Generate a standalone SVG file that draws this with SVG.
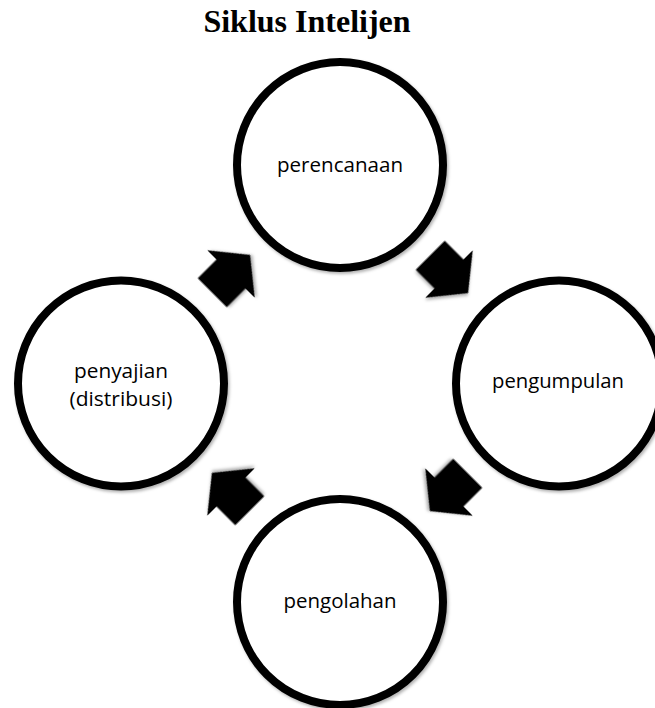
<svg xmlns="http://www.w3.org/2000/svg" width="655" height="708" viewBox="0 0 655 708">
<style>
.node circle{fill:#fff;stroke:#000;stroke-width:8;filter:url(#sh)}
.lbl{font-family:"Open Sans","Noto Sans",sans-serif;font-size:20.5px;fill:#000;text-anchor:middle}
.title{font-family:"Liberation Serif","Times New Roman",serif;font-size:32px;font-weight:bold;fill:#000;text-anchor:middle}
.arr{fill:#000;filter:url(#sh)}
</style>
<defs>
<filter id="sh" x="-20%" y="-20%" width="140%" height="140%">
<feDropShadow dx="1.5" dy="2" stdDeviation="1.5" flood-color="#000" flood-opacity="0.3"/>
</filter>
<path id="arrow" d="M-26.5,-20.5 L0,-20.5 L0,-33.5 L27,0 L0,33.5 L0,20.5 L-26.5,20.5 Z"/>
</defs>
<rect width="655" height="708" fill="#fff"/>
<text class="title" x="307" y="32">Siklus Intelijen</text>
<g id="connectors">
<use href="#arrow" class="arr" transform="translate(231,274) rotate(-45)"/>
<use href="#arrow" class="arr" transform="translate(449,274) rotate(45)"/>
<use href="#arrow" class="arr" transform="translate(449,492) rotate(135)"/>
<use href="#arrow" class="arr" transform="translate(231,492) rotate(-135)"/>
</g>
<g id="perencanaan" class="node">
<circle cx="340" cy="165" r="103"/>
<text class="lbl" x="340" y="172" textLength="126" lengthAdjust="spacingAndGlyphs">perencanaan</text>
</g>
<g id="pengumpulan" class="node">
<circle cx="559" cy="383.5" r="103"/>
<text class="lbl" x="558" y="388" textLength="132" lengthAdjust="spacingAndGlyphs">pengumpulan</text>
</g>
<g id="pengolahan" class="node">
<circle cx="340" cy="602" r="103"/>
<text class="lbl" x="340" y="608" textLength="113" lengthAdjust="spacingAndGlyphs">pengolahan</text>
</g>
<g id="penyajian" class="node">
<circle cx="121" cy="383.5" r="103"/>
<text class="lbl" x="121" y="378" textLength="94" lengthAdjust="spacingAndGlyphs">penyajian</text>
<text class="lbl" x="121" y="406" textLength="103" lengthAdjust="spacingAndGlyphs">(distribusi)</text>
</g>
</svg>
